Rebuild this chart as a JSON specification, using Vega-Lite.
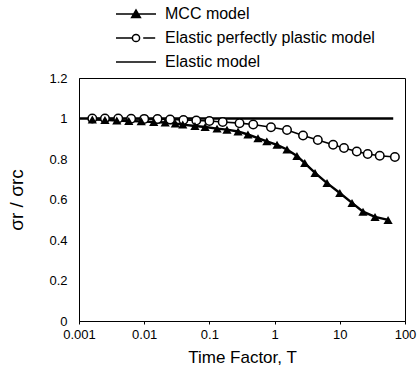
{
  "$schema": "https://vega.github.io/schema/vega-lite/v6.json",
  "width": 326,
  "height": 243,
  "autosize": {"type": "none"},
  "padding": {"left": 79, "top": 78, "right": 14, "bottom": 60},
  "config": {
    "font": "Liberation Sans",
    "view": {"stroke": "black", "strokeWidth": 1},
    "axis": {
      "domainColor": "black",
      "tickColor": "black",
      "labelColor": "black",
      "titleColor": "black",
      "grid": false,
      "labelFontSize": 13,
      "labelFlush": false,
      "titleFontWeight": "normal"
    }
  },
  "datasets": {
    "curves": [
      {"s": "MCC model", "T": 0.0016, "r": 0.995},
      {"s": "MCC model", "T": 0.0025, "r": 0.993},
      {"s": "MCC model", "T": 0.0038, "r": 0.99},
      {"s": "MCC model", "T": 0.0058, "r": 0.988},
      {"s": "MCC model", "T": 0.009, "r": 0.986},
      {"s": "MCC model", "T": 0.014, "r": 0.983},
      {"s": "MCC model", "T": 0.021, "r": 0.98},
      {"s": "MCC model", "T": 0.03, "r": 0.975},
      {"s": "MCC model", "T": 0.039, "r": 0.97},
      {"s": "MCC model", "T": 0.06, "r": 0.963},
      {"s": "MCC model", "T": 0.086, "r": 0.958},
      {"s": "MCC model", "T": 0.131, "r": 0.95},
      {"s": "MCC model", "T": 0.186, "r": 0.945},
      {"s": "MCC model", "T": 0.275, "r": 0.936},
      {"s": "MCC model", "T": 0.39, "r": 0.921},
      {"s": "MCC model", "T": 0.556, "r": 0.903},
      {"s": "MCC model", "T": 0.76, "r": 0.887},
      {"s": "MCC model", "T": 1.09, "r": 0.87},
      {"s": "MCC model", "T": 1.55, "r": 0.847},
      {"s": "MCC model", "T": 2.2, "r": 0.815},
      {"s": "MCC model", "T": 2.9, "r": 0.78},
      {"s": "MCC model", "T": 4.17, "r": 0.731},
      {"s": "MCC model", "T": 6.37, "r": 0.681},
      {"s": "MCC model", "T": 10, "r": 0.632},
      {"s": "MCC model", "T": 15.4, "r": 0.583},
      {"s": "MCC model", "T": 22.7, "r": 0.54},
      {"s": "MCC model", "T": 34.7, "r": 0.514},
      {"s": "MCC model", "T": 55, "r": 0.499},
      {"s": "Elastic perfectly plastic model", "T": 0.0016, "r": 1.0},
      {"s": "Elastic perfectly plastic model", "T": 0.0025, "r": 1.0},
      {"s": "Elastic perfectly plastic model", "T": 0.004, "r": 1.0},
      {"s": "Elastic perfectly plastic model", "T": 0.0063, "r": 0.999},
      {"s": "Elastic perfectly plastic model", "T": 0.01, "r": 0.998},
      {"s": "Elastic perfectly plastic model", "T": 0.016, "r": 0.997},
      {"s": "Elastic perfectly plastic model", "T": 0.025, "r": 0.995},
      {"s": "Elastic perfectly plastic model", "T": 0.04, "r": 0.993},
      {"s": "Elastic perfectly plastic model", "T": 0.063, "r": 0.99},
      {"s": "Elastic perfectly plastic model", "T": 0.1, "r": 0.988},
      {"s": "Elastic perfectly plastic model", "T": 0.16, "r": 0.983},
      {"s": "Elastic perfectly plastic model", "T": 0.29, "r": 0.977},
      {"s": "Elastic perfectly plastic model", "T": 0.47, "r": 0.97},
      {"s": "Elastic perfectly plastic model", "T": 0.88, "r": 0.957},
      {"s": "Elastic perfectly plastic model", "T": 1.55, "r": 0.943},
      {"s": "Elastic perfectly plastic model", "T": 2.73, "r": 0.916},
      {"s": "Elastic perfectly plastic model", "T": 4.6, "r": 0.894},
      {"s": "Elastic perfectly plastic model", "T": 7.9, "r": 0.87},
      {"s": "Elastic perfectly plastic model", "T": 11.6, "r": 0.854},
      {"s": "Elastic perfectly plastic model", "T": 18.2, "r": 0.837},
      {"s": "Elastic perfectly plastic model", "T": 26.8, "r": 0.825},
      {"s": "Elastic perfectly plastic model", "T": 41, "r": 0.816},
      {"s": "Elastic perfectly plastic model", "T": 70, "r": 0.81},
      {"s": "Elastic model", "T": 0.001, "r": 1.0},
      {"s": "Elastic model", "T": 66, "r": 1.0}
    ],
    "legendRows": [
      {"s": "MCC model", "T": 1, "r": 1},
      {"s": "Elastic perfectly plastic model", "T": 1, "r": 1},
      {"s": "Elastic model", "T": 1, "r": 1}
    ]
  },
  "data": {"name": "curves"},
  "encoding": {
    "x": {
      "field": "T",
      "type": "quantitative",
      "scale": {"type": "log", "domain": [0.001, 100], "nice": false},
      "axis": {
        "values": [0.001, 0.01, 0.1, 1, 10, 100],
        "format": "~g",
        "tickSize": 3,
        "labelPadding": 4,
        "title": "Time Factor, T",
        "titleFontSize": 17,
        "titlePadding": 8
      }
    },
    "y": {
      "field": "r",
      "type": "quantitative",
      "scale": {"domain": [0, 1.2], "nice": false},
      "axis": {
        "values": [0, 0.2, 0.4, 0.6, 0.8, 1, 1.2],
        "format": "~g",
        "tickSize": 0,
        "labelPadding": 12,
        "title": "σr / σrc",
        "titleFontSize": 19,
        "titlePadding": 22
      }
    }
  },
  "layer": [
    {
      "transform": [{"filter": "datum.s === 'Elastic perfectly plastic model'"}],
      "mark": {"type": "line", "color": "black", "strokeWidth": 1.6}
    },
    {
      "transform": [{"filter": "datum.s === 'MCC model'"}],
      "mark": {"type": "line", "color": "black", "strokeWidth": 2.4}
    },
    {
      "transform": [{"filter": "datum.s === 'Elastic model'"}],
      "mark": {"type": "line", "color": "black", "strokeWidth": 2.5}
    },
    {
      "transform": [{"filter": "datum.s === 'Elastic perfectly plastic model'"}],
      "mark": {"type": "point", "shape": "circle", "filled": true, "fill": "white", "stroke": "black", "strokeWidth": 1.5, "size": 72, "opacity": 1}
    },
    {
      "transform": [{"filter": "datum.s === 'MCC model'"}],
      "mark": {"type": "point", "shape": "triangle-up", "filled": true, "color": "black", "size": 85, "opacity": 1}
    },
    {
      "data": {"name": "legendRows"},
      "mark": {"type": "point", "filled": true, "opacity": 0, "stroke": "black"},
      "encoding": {
        "shape": {
          "field": "s",
          "type": "nominal",
          "scale": {
            "domain": ["MCC model", "Elastic perfectly plastic model", "Elastic model"],
            "range": [
              "M-2.5,0H2.5M-0.55,0.45L0,-0.5L0.55,0.45Z",
              "M-2.5,0H-0.45M0.9,0H2.4M-0.45,0A0.45,0.45,0,1,1,0.45,0A0.45,0.45,0,1,1,-0.45,0Z",
              "M-2.5,0H2.5"
            ]
          },
          "legend": {
            "title": null,
            "orient": "none",
            "legendX": 48,
            "legendY": -73,
            "padding": 0,
            "labelFontSize": 16,
            "labelColor": "black",
            "labelOffset": 20,
            "labelLimit": 400,
            "rowPadding": 7,
            "symbolSize": 256,
            "symbolStrokeWidth": 1.5,
            "symbolStrokeColor": "black",
            "symbolOpacity": 1,
            "encode": {
              "symbols": {
                "update": {
                  "stroke": {"value": "black"},
                  "strokeWidth": {"value": 1.5},
                  "opacity": {"value": 1}
                }
              }
            }
          }
        },
        "fill": {
          "field": "s",
          "type": "nominal",
          "scale": {
            "domain": ["MCC model", "Elastic perfectly plastic model", "Elastic model"],
            "range": ["black", "white", "black"]
          },
          "legend": {
            "title": null,
            "orient": "none",
            "legendX": 48,
            "legendY": -73,
            "padding": 0,
            "labelFontSize": 16,
            "labelColor": "black",
            "labelOffset": 20,
            "labelLimit": 400,
            "rowPadding": 7,
            "symbolSize": 256,
            "symbolStrokeWidth": 1.5,
            "symbolStrokeColor": "black",
            "symbolOpacity": 1,
            "encode": {
              "symbols": {
                "update": {
                  "stroke": {"value": "black"},
                  "strokeWidth": {"value": 1.5},
                  "opacity": {"value": 1}
                }
              }
            }
          }
        }
      }
    }
  ]
}
